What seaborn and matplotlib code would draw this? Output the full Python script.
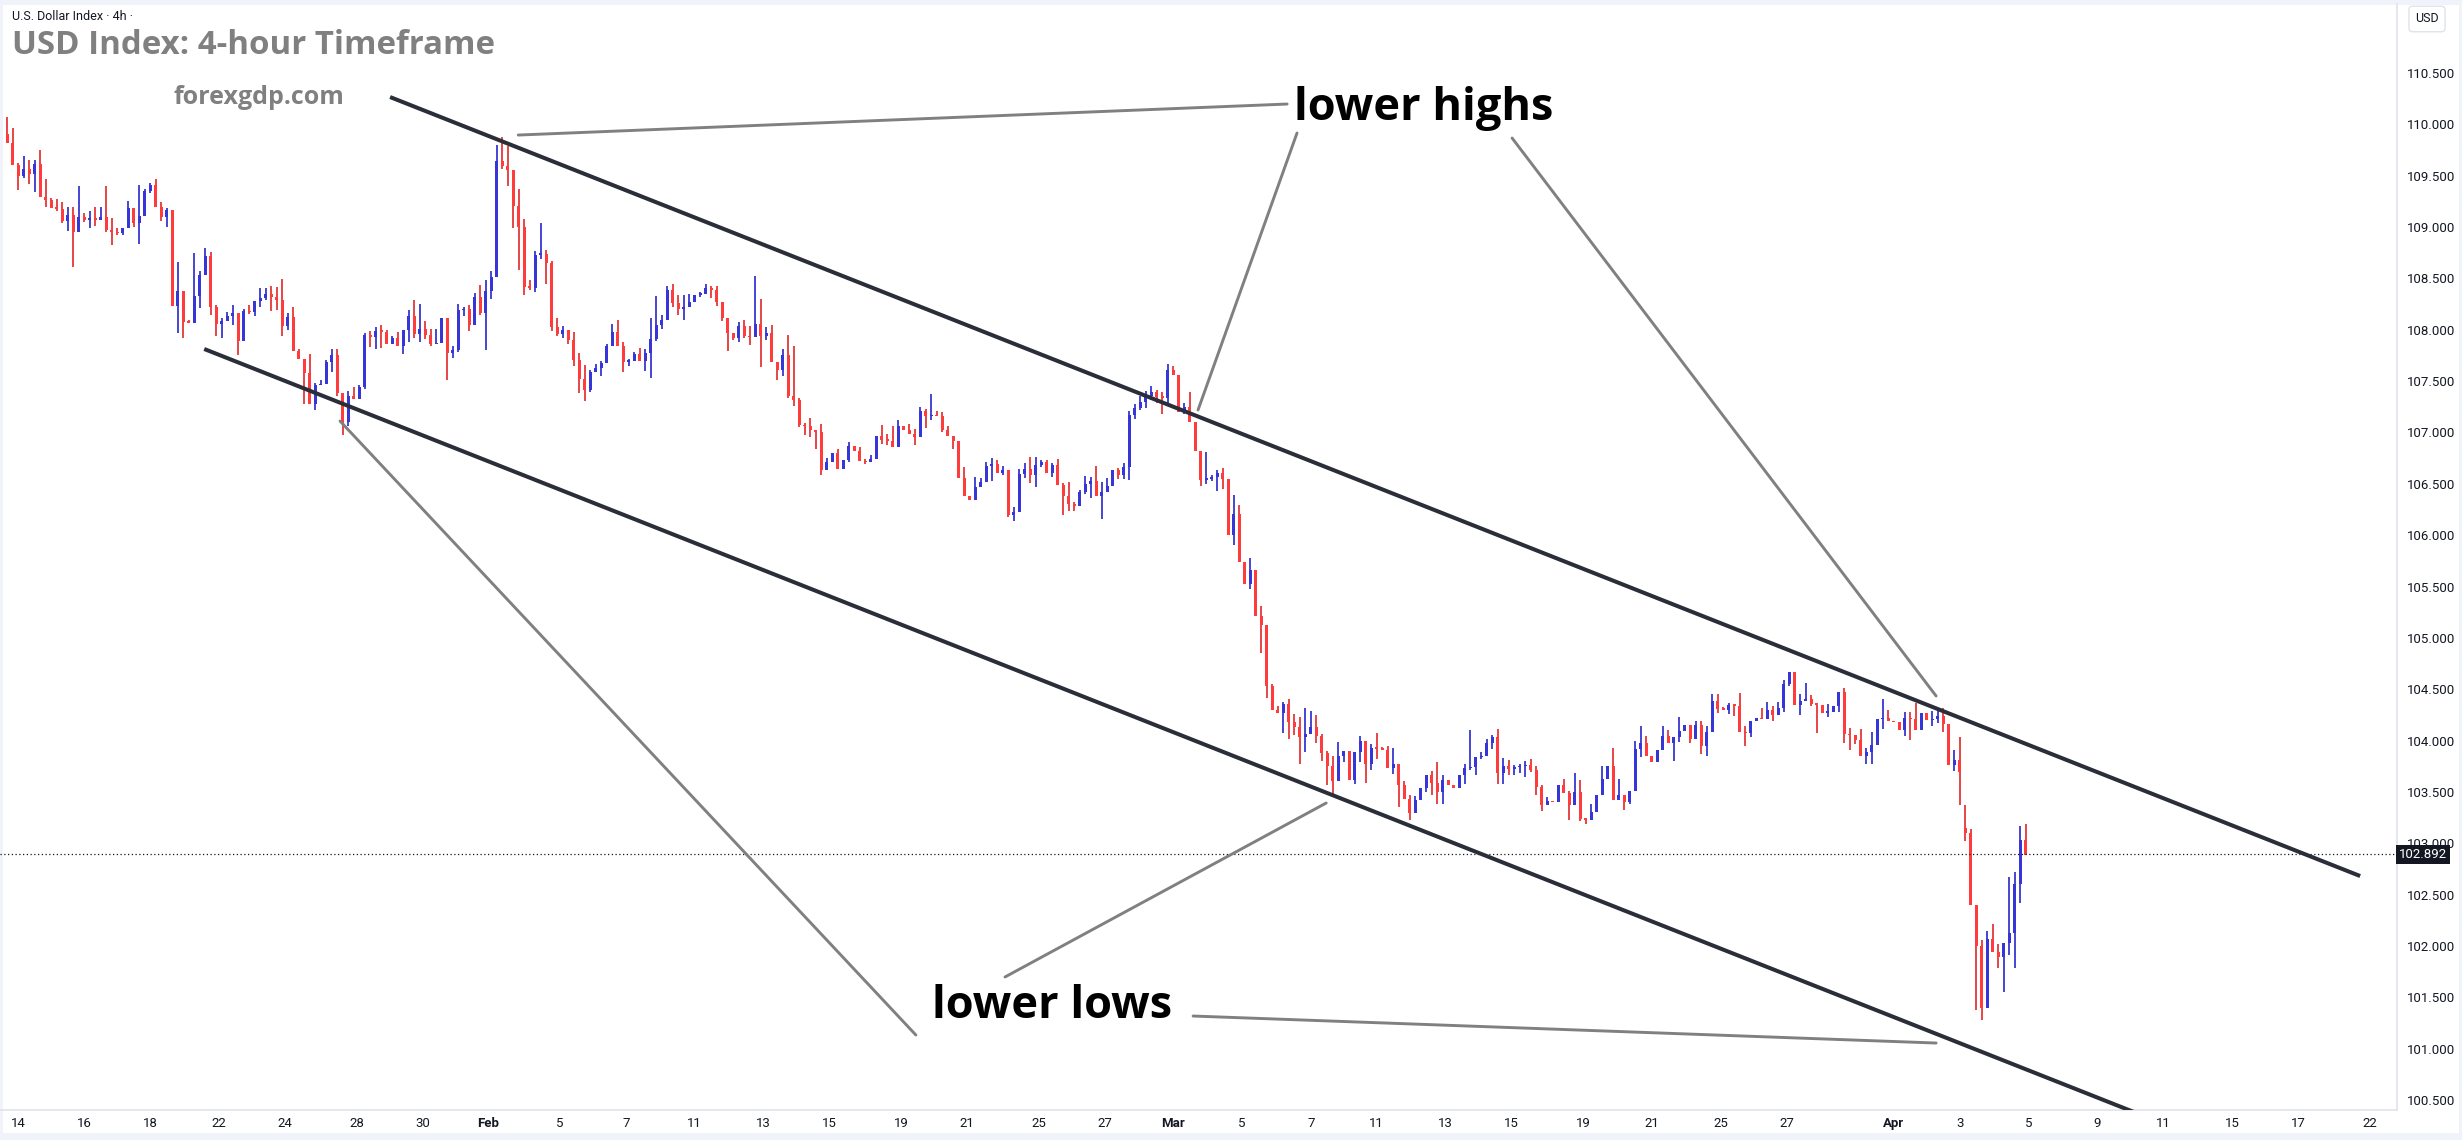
import numpy as np
import pandas as pd
import matplotlib
matplotlib.use("Agg")
import matplotlib.pyplot as plt
import matplotlib.patches as patches
import seaborn as sns

# 4h candles (price units)
first_open = 109.91
closes = [
    109.82, 109.60, 109.50, 109.57, 109.52, 109.61, 109.29, 109.26, 109.19, 109.18,
    109.06, 109.12, 108.95, 109.10, 109.07, 109.08, 109.07, 109.10, 108.97, 108.95,
    108.94, 108.99, 109.19, 109.04, 109.11, 109.35, 109.41, 109.20, 109.10, 109.17,
    108.23, 108.38, 108.08, 108.07, 108.33, 108.53, 108.72, 108.22, 108.06, 108.09,
    108.13, 108.16, 107.89, 108.18, 108.17, 108.28, 108.31, 108.35, 108.32, 108.29,
    108.04, 108.12, 107.79, 107.72, 107.58, 107.28, 107.46, 107.47, 107.69, 107.75,
    107.38, 107.10, 107.36, 107.33, 107.44, 107.95, 107.93, 107.99, 107.98, 107.86,
    107.92, 107.84, 108.00, 108.13, 107.96, 108.01, 107.95, 107.86, 107.87, 108.11,
    107.77, 107.80, 108.19, 108.20, 108.05, 108.32, 108.16, 108.38, 108.51, 109.64,
    109.59, 109.56, 109.21, 109.00, 108.42, 108.41, 108.73, 108.74, 108.65, 108.03,
    107.96, 108.00, 107.90, 107.71, 107.52, 107.41, 107.59, 107.63, 107.68, 107.84,
    107.98, 107.84, 107.69, 107.70, 107.76, 107.70, 107.77, 107.91, 108.05, 108.10,
    108.39, 108.26, 108.20, 108.22, 108.27, 108.34, 108.35, 108.41, 108.39, 108.27,
    108.11, 107.97, 107.92, 108.04, 107.94, 107.93, 108.06, 107.94, 107.97, 107.69,
    107.61, 107.75, 107.36, 107.32, 107.07, 107.06, 107.02, 107.00, 106.63, 106.71,
    106.80, 106.64, 106.73, 106.87, 106.82, 106.72, 106.71, 106.74, 106.97, 106.93,
    106.92, 106.86, 107.06, 107.02, 106.99, 106.96, 107.21, 107.16, 107.17, 107.16,
    107.02, 106.97, 106.92, 106.56, 106.38, 106.34, 106.47, 106.52, 106.67, 106.69,
    106.61, 106.63, 106.20, 106.23, 106.60, 106.64, 106.59, 106.68, 106.71, 106.61,
    106.68, 106.49, 106.38, 106.30, 106.28, 106.42, 106.50, 106.53, 106.38, 106.42,
    106.48, 106.63, 106.59, 106.66, 107.17, 107.24, 107.30, 107.36, 107.39, 107.35,
    107.34, 107.61, 107.56, 107.20, 107.25, 107.10, 106.82, 106.54, 106.55, 106.57,
    106.61, 106.55, 106.00, 106.21, 105.74, 105.52, 105.66, 105.21, 105.13, 104.53,
    104.30, 104.27, 104.36, 104.18, 104.13, 104.03, 104.06, 104.13, 104.04, 103.88,
    103.75, 103.61, 103.85, 103.90, 103.62, 103.89, 104.00, 103.77, 103.93, 103.92,
    103.91, 103.73, 103.77, 103.57, 103.43, 103.29, 103.42, 103.54, 103.66, 103.59,
    103.50, 103.62, 103.57, 103.54, 103.66, 103.73, 103.74, 103.84, 103.85, 103.98,
    104.03, 103.68, 103.75, 103.72, 103.74, 103.75, 103.76, 103.71, 103.55, 103.37,
    103.41, 103.40, 103.57, 103.49, 103.37, 103.50, 103.24, 103.23, 103.30, 103.47,
    103.63, 103.75, 103.42, 103.47, 103.40, 103.51, 103.92, 103.98, 103.85, 103.79,
    103.91, 104.04, 103.98, 104.03, 104.09, 104.15, 104.02, 104.15, 103.95, 104.08,
    104.39, 104.31, 104.30, 104.35, 104.34, 104.08, 104.07, 104.19, 104.22, 104.21,
    104.30, 104.25, 104.32, 104.55, 104.67, 104.35, 104.39, 104.40, 104.36, 104.35,
    104.27, 104.28, 104.34, 104.47, 104.06, 104.05, 104.01, 103.85, 103.89, 103.96,
    104.21, 104.22, 104.19, 104.18, 104.10, 104.22, 104.21, 104.10, 104.27, 104.20,
    104.21, 104.24, 104.16, 103.76, 103.81, 103.69, 103.10, 102.40, 102.00, 101.40,
    102.07, 101.94, 101.89, 102.03, 102.13, 102.60, 103.03, 102.89,
]
# wick lengths above / below the body, base-36 digits, in steps of 0.02
wick_step = 0.02
up_wick = [int(c, 36) for c in (
    "8716427914" "344f2465f6" "2030f11321" "0e01l24211" "2401305345"
    "a251091213" "3024112231" "13038c4370" "0231226538" "ca08432f21"
    "4204371211" "4621132ae2" "2346401212" "000235nc34" "03ao114042"
    "0202021205" "37303221a2" "2200505223" "2202236411" "1317114275"
    "4012223231" "23202700d1" "1209406050" "121245d861" "1570002027"
    "1280222002" "a20002i022" "1443112321" "2003196040" "6098004830"
    "0530700223" "3311063005" "4232003820" "0400230526" "0940033800"
    "44405bb203" "4740r678")]
down_wick = [int(c, 36) for c in (
    "0071590301" "15h0143016" "1102a01025" "0d80060467" "0470123175"
    "5200f03005" "1620015680" "0046242100" "d213301i40" "18bl4122a2"
    "1223751040" "0052005c12" "0235001042" "1912140f20" "5313143820"
    "0001001002" "2000040620" "1040000007" "0113024610" "209320170b"
    "0022621323" "8400100321" "75050020e6" "00a84d7034" "9703025935"
    "003b030026" "6600041410" "3553335143" "0000701200" "0000410400"
    "0009202045" "0202506200" "030210501e" "0203472046" "050003a000"
    "32403g40v6" "005h6h90")]
gap_opens = {356: 103.15}
last_price = 102.892

tick_idx = [2, 14, 26, 38.5, 50.5, 63.5, 75.5, 87.5, 100.5, 112.5, 125, 137.5,
            149.5, 162.5, 174.5, 187.5, 199.5, 212, 224.5, 237, 249, 261.5, 273.5,
            286.5, 299, 311.5, 323.5, 343, 355, 367.5, 380, 392, 404.5, 416.5, 429.5]
tick_lbl = ["14", "16", "18", "22", "24", "28", "30", "Feb", "5", "7", "11", "13",
            "15", "19", "21", "25", "27", "Mar", "5", "7", "11", "13", "15",
            "19", "21", "25", "27", "Apr", "3", "5", "9", "11", "15", "17", "22"]
price_ticks = [100.5, 101.0, 101.5, 102.0, 102.5, 103.0, 103.5, 104.0, 104.5, 105.0,
               105.5, 106.0, 106.5, 107.0, 107.5, 108.0, 108.5, 109.0, 109.5, 110.0, 110.5]

# drawings (candle index, price)
channel_upper = [(69.6, 110.266), (427.8, 102.681)]
channel_lower = [(35.8, 107.813), (400.0, 100.101)]
pointer_lines = [
    [(92.9, 109.896), (232.7, 110.198)],
    [(234.5, 109.916), (216.5, 107.219)],
    [(273.6, 109.867), (350.7, 104.434)],
    [(60.5, 107.111), (165.2, 101.133)],
    [(181.4, 101.698), (239.8, 103.392)],
    [(215.6, 101.318), (350.7, 101.055)],
]
label_highs = (257.6, 110.15)
label_lows = (190.0, 101.41)

df = pd.DataFrame({"close": closes})
df["open"] = df["close"].shift(1).fillna(first_open)
for k, v in gap_opens.items():
    df.loc[k, "open"] = v
df["top"] = df[["open", "close"]].max(axis=1)
df["bot"] = df[["open", "close"]].min(axis=1)
df["high"] = df["top"] + np.array(up_wick) * wick_step
df["low"] = df["bot"] - np.array(down_wick) * wick_step
df["up"] = df["close"] >= df["open"]
x = np.arange(len(df))

sns.set_theme(style="white")
plt.rcParams["font.family"] = ["Roboto", "DejaVu Sans"]

W, H = 2462, 1140
fig = plt.figure(figsize=(W / 100, H / 100), dpi=100)
fig.patch.set_facecolor("#f0f3fa")
fig.patches.append(patches.Rectangle((3 / W, 7 / H), 1 - 6 / W, 1 - 12 / H,
                                     transform=fig.transFigure, fc="white", ec="none", zorder=-5))
ax = fig.add_axes([0, 30 / H, 2397 / W, 1106 / H])
ax.set_zorder(2)
ax.set_facecolor("none")

body_c = np.where(df["up"], "#3535d8", "#ff3b3b")
wick_c = np.where(df["up"], "#1414c8", "#e01414")
ax.vlines(x, df["low"], df["high"], colors=wick_c, lw=1.1, zorder=2)
ax.bar(x, np.maximum(df["top"] - df["bot"], 0.014), bottom=df["bot"], width=0.6,
       color=body_c, lw=0, zorder=3)

for (x0, y0), (x1, y1) in [channel_upper, channel_lower]:
    ax.plot([x0, x1], [y0, y1], color="#2a2e39", lw=2.9, solid_capstyle="butt", zorder=5)
for (x0, y0), (x1, y1) in pointer_lines:
    ax.plot([x0, x1], [y0, y1], color="#808080", lw=2.1, zorder=5)

ax.axhline(last_price, color="#131722", lw=0.9, ls=(0, (1, 2)), zorder=4)

ax.text(*label_highs, "lower highs", fontsize=32.5, fontweight="bold", family="Open Sans",
        color="#000000", ha="center", va="center", zorder=6)
ax.text(*label_lows, "lower lows", fontsize=32.5, fontweight="bold", family="Open Sans",
        color="#000000", ha="center", va="center", zorder=6)

ax.set_xlim(-1.33, 434.5)
ax.set_ylim(100.403, 111.172)
ax.set_xticks(tick_idx)
ax.set_xticklabels(tick_lbl)
for lab in ax.get_xticklabels():
    if lab.get_text() in ("Feb", "Mar", "Apr"):
        lab.set_fontweight("bold")
ax.yaxis.tick_right()
ax.set_yticks(price_ticks)
ax.set_yticklabels([f"{p:.3f}" for p in price_ticks])
ax.tick_params(axis="both", length=0, labelsize=9.5, labelcolor="#131722")
ax.tick_params(axis="y", pad=7)
ax.tick_params(axis="x", pad=5)
for s in ("top", "left"):
    ax.spines[s].set_visible(False)
for s in ("right", "bottom"):
    ax.spines[s].set_color("#e0e3eb")
    ax.spines[s].set_linewidth(1.2)
ax.grid(False)

ax.text(1.0 + 2 / 2397, last_price, "102.892", transform=ax.get_yaxis_transform(),
        ha="left", va="center", fontsize=9.5, color="white", zorder=10,
        bbox=dict(boxstyle="square,pad=0.25", fc="#131722", ec="none"), clip_on=False)

fig.text(2427 / W, 1 - 19 / H, "USD", ha="center", va="center", fontsize=9, color="#131722",
         bbox=dict(boxstyle="round,pad=0.5,rounding_size=0.3", fc="white", ec="#e0e3eb"))
fig.text(12 / W, 1 - 17 / H, "U.S. Dollar Index · 4h ·", ha="left", va="center",
         fontsize=9, color="#131722")
fig.text(12 / W, 1 - 46 / H, "USD Index: 4-hour Timeframe", ha="left", va="center",
         fontsize=23.8, fontweight="bold", family="Open Sans", color="#808080")
fig.text(173 / W, 1 - 98 / H, "forexgdp.com", ha="left", va="center",
         fontsize=18, fontweight="bold", family="Open Sans", color="#808080")

fig.savefig("out.png", dpi=100, facecolor=fig.get_facecolor())
